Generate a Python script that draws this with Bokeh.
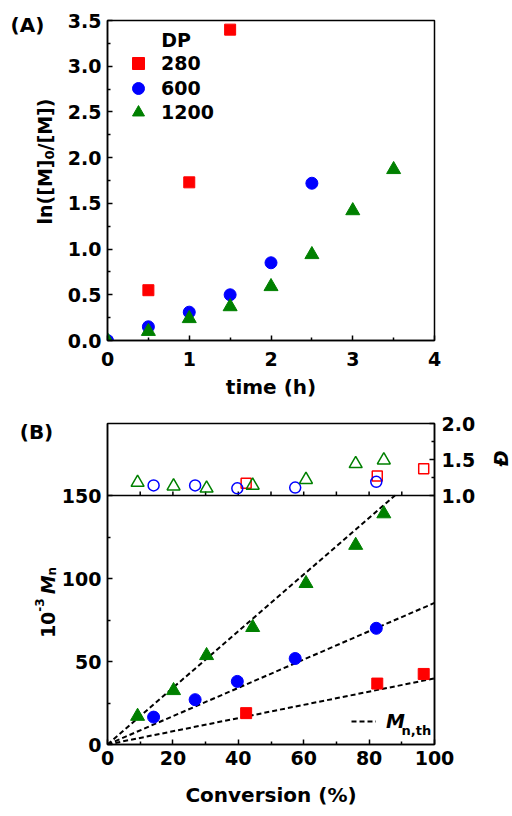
import math
from bokeh.plotting import figure
from bokeh.models import (Range1d, LinearAxis, FixedTicker, Span, Label, Legend,
                          LegendItem, PrintfTickFormatter)
from bokeh.layouts import column, row
from bokeh.embed import file_html
from bokeh.resources import INLINE

# ---------------- data : panel A (kinetics) ----------------
t_280 = [0.5, 1.0, 1.5]
ln_280 = [0.55, 1.73, 3.40]
t_600 = [0.0, 0.5, 1.0, 1.5, 2.0, 2.5]
ln_600 = [0.0, 0.15, 0.31, 0.50, 0.85, 1.72]
t_1200 = [0.0, 0.5, 1.0, 1.5, 2.0, 2.5, 3.0, 3.5]
ln_1200 = [0.0, 0.10, 0.24, 0.37, 0.59, 0.94, 1.42, 1.87]
dp_labels = ["280", "600", "1200"]

# ---------------- data : panel B (Mn and dispersity) ----------------
conv_280 = [42.4, 82.5, 96.7]
mn_280 = [18.9, 36.7, 42.5]
disp_280 = [1.17, 1.27, 1.37]
conv_600 = [14.1, 26.8, 39.7, 57.4, 82.2]
mn_600 = [16.5, 27.0, 38.0, 51.8, 70.0]
disp_600 = [1.14, 1.14, 1.10, 1.11, 1.19]
conv_1200 = [9.2, 20.2, 30.3, 44.4, 60.7, 75.9, 84.5]
mn_1200 = [17.0, 32.5, 53.6, 70.5, 97.0, 120.0, 139.0]
disp_1200 = [1.18, 1.13, 1.10, 1.14, 1.22, 1.44, 1.49]
# theoretical Mn lines (end points)
th_conv_280 = [0, 100]
th_mn_280 = [0, 39.8]
th_conv_600 = [0, 100]
th_mn_600 = [0, 85.3]
th_conv_1200 = [0, 87.9]
th_mn_1200 = [0, 150]

# tick values
a_xticks = [0, 1, 2, 3, 4]
a_xminor = [0.5, 1.5, 2.5, 3.5]
a_yticks = [0, 0.5, 1.0, 1.5, 2.0, 2.5, 3.0, 3.5]
a_yminor = [0.25, 0.75, 1.25, 1.75, 2.25, 2.75, 3.25]
b_xticks = [0, 20, 40, 60, 80, 100]
b_xminor = [10, 30, 50, 70, 90]
b_yticks = [0, 50, 100, 150]
b_yminor = [25, 75, 125]
d_ticks = [1.0, 1.5, 2.0]
d_minor = [1.25, 1.75]
mid_ticks = [10, 20, 30, 40, 50, 60, 70, 80, 90]

RED, BLUE, GREEN = "#ff0000", "#0000ff", "#008000"
FONT = "DejaVu Sans"

# ---------------- geometry (page pixels) ----------------
HA, HB = 408, 406          # heights of the two panels
LABW = 58                  # width of the left label strip
RSTRIP = 32                # width of the right strip (dispersity title)
MIDW = 512 - LABW - RSTRIP
LA, RA, TA, BA = 106, 435, 20, 340
LB, RB, TB, BB = 106, 434, 423, 744
SPLIT = 495  # Mn = 150 / D = 1.0 line
MN_PX = (BB - SPLIT) / 150.0
D_PX = (SPLIT - TB) / 1.0


def ax_(px):
    return (px - LA) / (RA - LA) * 4.0


def ay_(py):
    return (BA - py) / (BA - TA) * 3.5


def bx_(px):
    return (px - LB) / (RB - LB) * 100.0


def by_(py):
    return (BB - py) / MN_PX


W = {**{d: 0.696 for d in "0123456789"}, "l": 0.343, "n": 0.712, "(": 0.457, ")": 0.457,
     "[": 0.457, "]": 0.457, "M": 0.995, "/": 0.365, "-": 0.415, " ": 0.348}


def tw(s, fs):
    return sum(W[c] for c in s) * fs


def vlabel(p, base_px, center_py, pieces):
    total = sum(tw(s, fs) if s else fs for s, fs, style, shift in pieces)
    y = center_py + total / 2
    for s, fs, style, shift in pieces:
        if not s:
            y -= fs
            continue
        w = tw(s, fs)
        p.add_layout(Label(x=base_px + shift, y=y - w / 2, text=s, angle=math.pi / 2,
                           text_align="center", text_baseline="alphabetic", text_font=FONT,
                           text_font_size=f"{fs}px", text_font_style=style, text_color="black"))
        y -= w


def strip(x0, x1, y0, y1):
    s = figure(width=x1 - x0, height=y1 - y0, x_range=Range1d(x0, x1), y_range=Range1d(y1, y0),
               output_backend="svg", toolbar_location=None, x_axis_location=None,
               y_axis_location=None, min_border=0)
    s.outline_line_color = None
    s.xgrid.visible = False
    s.ygrid.visible = False
    return s


def style_axis(ax):
    ax.axis_line_color = "black"
    ax.axis_line_width = 1.5
    ax.major_tick_in = 5
    ax.major_tick_out = 0
    ax.minor_tick_in = 3
    ax.minor_tick_out = 0
    ax.major_tick_line_width = 1.5
    ax.minor_tick_line_width = 1.5
    ax.major_tick_line_color = "black"
    ax.minor_tick_line_color = "black"
    ax.major_label_text_font = FONT
    ax.major_label_text_font_style = "bold"
    ax.major_label_text_font_size = "19px"
    ax.major_label_text_color = "black"
    ax.axis_label_text_font = FONT
    ax.axis_label_text_font_style = "bold"
    ax.axis_label_text_font_size = "20px"
    ax.axis_label_text_color = "black"


# ================= Panel A =================
pA = figure(width=MIDW, height=HA, x_range=Range1d(0, 4), y_range=Range1d(0, 3.5),
            output_backend="svg", toolbar_location=None,
            min_border_left=LA - LABW, min_border_right=LABW + MIDW - RA, min_border_top=TA,
            min_border_bottom=HA - BA)
pA.xgrid.visible = False
pA.ygrid.visible = False
pA.outline_line_color = "black"
pA.outline_line_width = 1.5
pA.outline_line_alpha = 1.0
for ax in pA.xaxis + pA.yaxis:
    style_axis(ax)
pA.xaxis.ticker = FixedTicker(ticks=a_xticks, minor_ticks=a_xminor)
pA.yaxis.ticker = FixedTicker(ticks=a_yticks, minor_ticks=a_yminor)
pA.yaxis.formatter = PrintfTickFormatter(format="%.1f")
pA.xaxis.major_label_standoff = 11
pA.yaxis.major_label_standoff = 6
pA.xaxis.axis_label = "time (h)"
pA.xaxis.axis_label_standoff = 6

rA = [pA.scatter(t_280, ln_280, marker="square", size=11, color=RED),
      pA.scatter(t_600, ln_600, marker="circle", size=12, color=BLUE),
      pA.scatter(t_1200, ln_1200, marker="triangle", size=14, color=GREEN)]

for i, (rend, lab) in enumerate(zip(rA, dp_labels)):
    row_center = 63 + 24.5 * i
    leg = Legend(items=[LegendItem(label=lab, renderers=[rend])],
                 location=(137 - 15 - LA, BA - (row_center + 15)), border_line_color=None,
                 background_fill_alpha=0, label_text_font=FONT, label_text_font_style="bold",
                 label_text_font_size="19px", label_text_color="black", glyph_width=30,
                 glyph_height=30, label_height=30, padding=0, margin=0, label_standoff=8)
    pA.add_layout(leg)
pA.add_layout(Label(x=ax_(160), y=ay_(39), text="DP", text_align="left", text_baseline="middle",
                    text_font=FONT, text_font_size="19px", text_font_style="bold",
                    text_color="black"))

# ================= Panel B =================
mn_top = (BB - TB) / MN_PX
pB = figure(width=MIDW, height=HB, x_range=Range1d(0, 100),
            y_range=Range1d(0, mn_top), output_backend="svg", toolbar_location=None,
            min_border_left=LB - LABW, min_border_right=LABW + MIDW - RB,
            min_border_top=TB - HA, min_border_bottom=HA + HB - BB)
pB.extra_y_ranges = {"disp": Range1d(start=1.0 - (BB - SPLIT) / D_PX, end=1.0 + (SPLIT - TB) / D_PX)}
pB.xgrid.visible = False
pB.ygrid.visible = False
pB.outline_line_color = "black"
pB.outline_line_width = 1.5
pB.outline_line_alpha = 1.0
for ax in pB.xaxis + pB.yaxis:
    style_axis(ax)
pB.xaxis.ticker = FixedTicker(ticks=b_xticks, minor_ticks=b_xminor)
pB.yaxis.ticker = FixedTicker(ticks=b_yticks, minor_ticks=b_yminor)
pB.xaxis.major_label_standoff = 6
pB.yaxis.major_label_standoff = 6
pB.xaxis.axis_label = "Conversion (%)"
pB.xaxis.axis_label_standoff = 15

rax = LinearAxis(y_range_name="disp", ticker=FixedTicker(ticks=d_ticks, minor_ticks=d_minor),
                 formatter=PrintfTickFormatter(format="%.1f"))
style_axis(rax)
rax.major_label_standoff = 7
pB.add_layout(rax, "right")

pB.add_layout(Span(location=150, dimension="width", line_color="black", line_width=1.5))
pB.segment(x0=mid_ticks, y0=[150] * len(mid_ticks), x1=mid_ticks,
           y1=[150 + 4 / MN_PX] * len(mid_ticks), line_color="black", line_width=1.5)

# theoretical lines
rth = pB.line(th_conv_1200, th_mn_1200, line_dash="5 3", line_width=2, color="black")
pB.line(th_conv_600, th_mn_600, line_dash="5 3", line_width=2, color="black")
pB.line(th_conv_280, th_mn_280, line_dash="5 3", line_width=2, color="black")

# Mn points
pB.scatter(conv_280, mn_280, marker="square", size=11, color=RED)
pB.scatter(conv_600, mn_600, marker="circle", size=12, color=BLUE)
pB.scatter(conv_1200, mn_1200, marker="triangle", size=14, color=GREEN)
# dispersity points (open)
pB.scatter(conv_280, disp_280, y_range_name="disp", marker="square", size=10,
           fill_color=None, line_color=RED, line_width=1.5)
pB.scatter(conv_600, disp_600, y_range_name="disp", marker="circle", size=11,
           fill_color=None, line_color=BLUE, line_width=1.5)
pB.scatter(conv_1200, disp_1200, y_range_name="disp", marker="triangle", size=13,
           fill_color=None, line_color=GREEN, line_width=1.5)

legB = Legend(items=[LegendItem(label="M", renderers=[rth])], location=(350 - LB, BB - 732),
              border_line_color=None, background_fill_alpha=0, label_text_font=FONT,
              label_text_font_style="bold italic", label_text_font_size="19px",
              label_text_color="black", glyph_width=25, glyph_height=20, label_height=20,
              padding=0, margin=0, label_standoff=10)
pB.add_layout(legB)
pB.add_layout(Label(x=bx_(401), y=by_(730), text="n,th", text_align="left",
                    text_baseline="alphabetic", text_font=FONT, text_font_size="13px",
                    text_font_style="bold", text_color="black"))

# ================= label strips =================
labL = strip(0, LABW, 0, HA + HB)
labL.add_layout(Label(x=27, y=24, text="(A)", text_align="center", text_baseline="middle",
                      text_font=FONT, text_font_size="20px", text_font_style="bold",
                      text_color="black"))
vlabel(labL, 44.5, 161, [("ln([M]", 19, "bold", 0), ("0", 13, "bold", 4),
                         ("/[M])", 19, "bold", 0)])
labL.add_layout(Label(x=36, y=431, text="(B)", text_align="center", text_baseline="middle",
                      text_font=FONT, text_font_size="20px", text_font_style="bold",
                      text_color="black"))
vlabel(labL, 47, 602, [("10", 19, "bold", 0), ("-3", 12, "bold", -8), (None, 4, "", 0),
                       ("M", 19, "bold italic", 0), ("n", 12, "bold", 4)])

labR = strip(512 - RSTRIP, 512, 0, HA + HB)
labR.add_layout(Label(x=500, y=458, text="Đ", angle=math.pi / 2, text_align="center",
                      text_baseline="alphabetic", text_font=FONT, text_font_size="19px",
                      text_font_style="bold italic", text_color="black"))

layout = row(labL, column(pA, pB), labR)
open("out.html", "w").write(file_html(layout, INLINE))
